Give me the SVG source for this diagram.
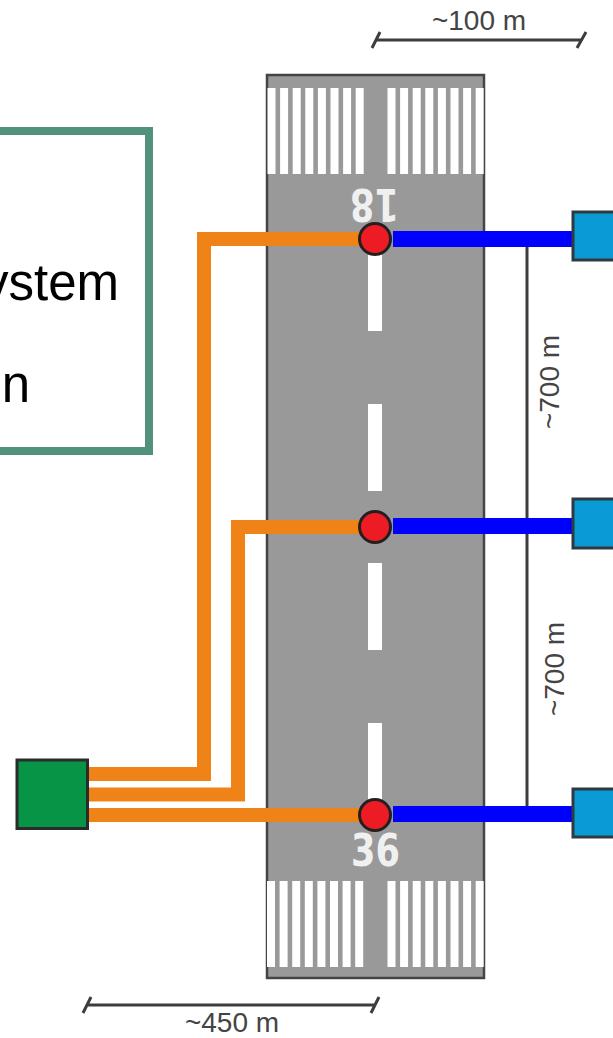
<svg xmlns="http://www.w3.org/2000/svg" width="613" height="1038" viewBox="0 0 613 1038">
<style>
.o{fill:none;stroke:#ef8318;stroke-width:14}
.b{fill:none;stroke:#0000ff;stroke-width:16}
.d{fill:none;stroke:#3d3d3d;stroke-width:3}
.c{fill:#ed1c24;stroke:#231f20;stroke-width:3}
.s{fill:#0a9ad6;stroke:#2f3a40;stroke-width:3}
.t{font-family:"Liberation Sans",Arial,sans-serif;font-size:28px;fill:#444}
.w{fill:#fff}
.l{font-family:"Liberation Sans",Arial,sans-serif;font-size:51px;fill:#000}
.r{font-family:"DejaVu Sans",sans-serif;font-weight:bold;font-size:45px;fill:#f0f0f0}
</style>
<defs>
<g id="bars" class="w">
<rect x="0" width="8" height="86"/><rect x="12.600" width="8" height="86"/><rect x="25.200" width="8" height="86"/><rect x="37.800" width="8" height="86"/><rect x="50.400" width="8" height="86"/><rect x="63" width="8" height="86"/><rect x="75.600" width="8" height="86"/><rect x="88.200" width="8" height="86"/>
</g>
</defs>
<rect width="613" height="1038" fill="#fff"/>
<g id="runway">
<rect x="267" y="75" width="217" height="903" fill="#999" stroke="#444" stroke-width="2.5"/>
<use href="#bars" x="267.500" y="88"/><use href="#bars" x="387.500" y="88"/>
<use href="#bars" x="267" y="881"/><use href="#bars" x="387.500" y="881"/>
<rect class="w" x="368" y="250" width="14" height="81"/>
<rect class="w" x="368" y="404" width="14" height="87"/>
<rect class="w" x="368" y="563" width="14" height="87"/>
<rect class="w" x="368" y="723" width="14" height="80"/>
<text class="r" transform="rotate(180 375 205)" x="351" y="221.500" textLength="49" lengthAdjust="spacingAndGlyphs">18</text>
<text class="r" x="351" y="866" textLength="49" lengthAdjust="spacingAndGlyphs">36</text>
</g>
<g id="dims">
<path class="d" d="M376 40H581M380 32L372 48M586 32L577 48"/>
<path class="d" d="M87 1005H375M91 997L83 1013M379 997L371 1013"/>
<path class="d" d="M527 246V806"/>
<text class="t" x="479" y="30" text-anchor="middle">~100 m</text>
<text class="t" x="232" y="1032" text-anchor="middle">~450 m</text>
<text class="t" transform="rotate(-90 559 382)" x="559" y="382" text-anchor="middle">~700 m</text>
<text class="t" transform="rotate(-90 564 669)" x="564" y="669" text-anchor="middle">~700 m</text>
</g>
<g id="connectors">
<path class="o" d="M88 774H204V239H362"/>
<path class="o" d="M88 794.500H238V527H362"/>
<path class="o" d="M88 815H362"/>
<path class="b" d="M393 239H573"/>
<path class="b" d="M393 526H573"/>
<path class="b" d="M393 814H573"/>
</g>
<g id="sensor-top"><circle class="c" cx="375" cy="239" r="15.500"/></g>
<g id="sensor-mid"><circle class="c" cx="375" cy="527" r="15.500"/></g>
<g id="sensor-bottom"><circle class="c" cx="375" cy="815" r="15.500"/></g>
<g id="box-top"><rect class="s" x="573" y="212" width="50" height="48"/></g>
<g id="box-mid"><rect class="s" x="573" y="499" width="50" height="49"/></g>
<g id="box-bottom"><rect class="s" x="573" y="789" width="50" height="48"/></g>
<g id="controller"><rect x="17" y="760" width="70.500" height="68.500" fill="#079447" stroke="#2b2b2b" stroke-width="3"/></g>
<g id="legend">
<rect x="-10" y="131" width="159" height="320" fill="#fff" stroke="#52917d" stroke-width="8"/>
<text class="l" x="119" y="300" text-anchor="end">ystem</text>
<text class="l" x="30" y="402" text-anchor="end">on</text>
</g>
</svg>
